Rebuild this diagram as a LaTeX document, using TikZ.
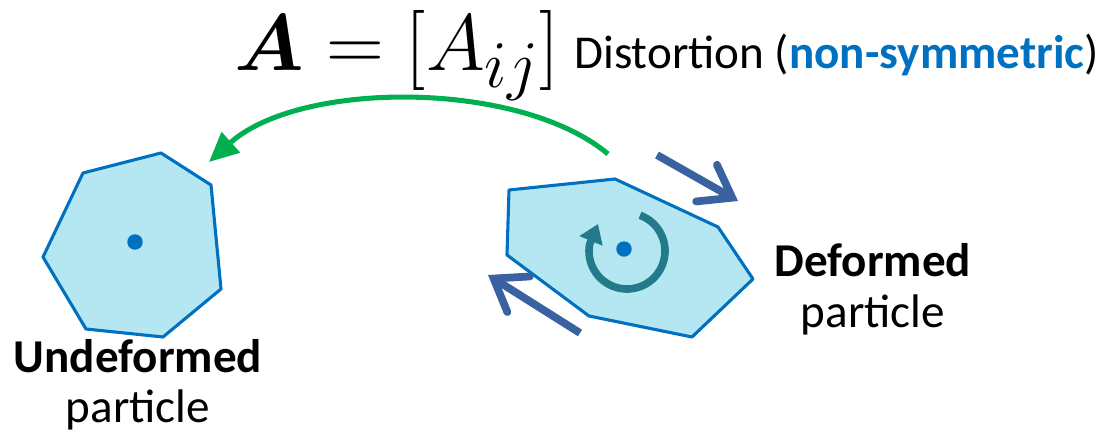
\documentclass[tikz,border=0pt]{standalone}
\usepackage{amsmath,amssymb}
\usepackage{graphicx}
\usepackage[no-math]{fontspec}
\setmainfont{Carlito}
\usetikzlibrary{arrows.meta}
\definecolor{partfill}{RGB}{180,231,242}
\definecolor{partedge}{RGB}{0,112,192}
\definecolor{spin}{RGB}{35,122,138}
\definecolor{shear}{RGB}{58,98,160}
\definecolor{mapgreen}{RGB}{0,176,80}

\begin{document}
\begin{tikzpicture}[x=0.025cm, y=-0.025cm, every node/.style={font=\fontsize{33.5}{40}\selectfont, inner sep=0pt},
	particle/.style={fill=partfill, draw=partedge, line width=2.2pt, line join=round},
	dot/.style={circle, fill=partedge, minimum size=11pt},
	sheararrow/.style={shear, line width=5.5pt, -{Straight Barb[length=21pt, width=30pt, line cap=round]}}]
	\useasboundingbox (0,0) rectangle (1118,438);
	\filldraw[particle] (83,173) -- (161,153) -- (211,185) -- (221,289) -- (163,337) -- (86,329) -- (43,257) -- cycle;
	\filldraw[particle] (509,190) -- (615,179) -- (718,227) -- (753,279) -- (692,337) -- (589,316) -- (507,255) -- cycle;
	\node[dot] (c0) at (135,242) {};
	\node[dot] (c1) at (624,249) {};
	\coordinate (spintip) at (598,224);
	\draw[spin, line width=5.4pt, -{Triangle[length=13pt, width=17pt]}] (627,251) ++(-70:38) arc[start angle=-70, end angle=190, radius=38] -- (spintip);
	\coordinate (s1a) at (657,155); \coordinate (s1b) at (738,201);
	\coordinate (s2a) at (580,333); \coordinate (s2b) at (488,275);
	\draw[sheararrow] (s1a) -- (s1b);
	\draw[sheararrow] (s2a) -- (s2b);
	\coordinate (gstart) at (608,154); \coordinate (gend) at (209,162);
	\draw[mapgreen, line width=3.6pt, -{Triangle[length=21pt, width=19pt]}] (gstart) .. controls (520,80) and (300,80) .. (gend);
	\node[anchor=base west] (amat) at (234,71) {\scalebox{2.29}{\Huge$\boldsymbol{A}=[A_{ij}]$}};
	\node[anchor=base west] (dist) at (574,69) {Distortion (\textcolor{partedge}{\textbf{non-symmetric}})};
	\node[anchor=base] (def1) at (873,277) {\textbf{Deformed}};
	\node[anchor=base] (def2) at (873,328) {particle};
	\node[anchor=base] (und1) at (138,373) {\textbf{Undeformed}};
	\node[anchor=base] (und2) at (138,423) {particle};
\end{tikzpicture}
\end{document}
